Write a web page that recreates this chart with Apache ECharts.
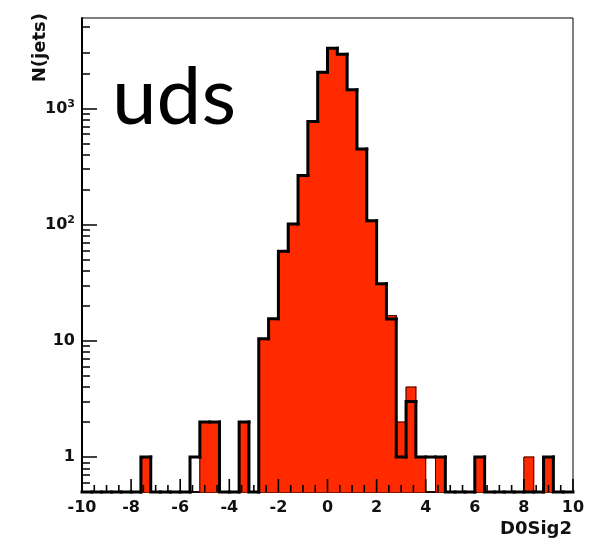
<!DOCTYPE html>
<html>
<head>
<meta charset="utf-8">
<script src="https://cdn.jsdelivr.net/npm/echarts@6/dist/echarts.min.js"></script>
<style>
  html, body { margin: 0; padding: 0; background: #fff; }
  #chart { width: 599px; height: 541px; }
</style>
</head>
<body>
<div id="chart"></div>
<script>
// D0Sig2 distribution for uds jets: 50 bins of width 0.4 on [-10, 10]
const binStart = -10;
const binWidth = 0.4;

// filled histogram (red)
const redCounts = [
  0, 0, 0, 0, 0, 0, 1, 0, 0, 0,
  0, 0, 2, 2, 0, 0, 2, 0, 10.4, 15.5,
  59, 101, 265, 771, 2052, 3300, 2930, 1446, 447, 108,
  31, 16.5, 2, 4, 1, 0, 1, 0, 0, 0,
  1, 0, 0, 0, 0, 1, 0, 1, 0, 0
];

// outline histogram (black)
const blackCounts = [
  0, 0, 0, 0, 0, 0, 1, 0, 0, 0,
  0, 1, 2, 2, 0, 0, 2, 0, 10.4, 15.5,
  59, 101, 265, 771, 2052, 3300, 2930, 1446, 447, 108,
  31, 15.4, 1, 3, 1, 1, 1, 0, 0, 0,
  1, 0, 0, 0, 0, 0, 0, 1, 0, 0
];

const xTickLabels = [-10, -8, -6, -4, -2, 0, 2, 4, 6, 8, 10];
const xMinorTicks = [];
for (let k = 0; k < 40; k++) {
  const v = -10 + k * 0.5;
  if (k % 4 !== 0) xMinorTicks.push(v);
}
const yMajorTicks = [1, 10, 100, 1000];
const yMinorTicks = [0.6, 0.7, 0.8, 0.9,
  2, 3, 4, 5, 6, 7, 8, 9,
  20, 30, 40, 50, 60, 70, 80, 90,
  200, 300, 400, 500, 600, 700, 800, 900,
  2000, 3000, 5000];

const yMin = 0.5;
const yMax = 6000;
const RED = '#ff2a00';
const FONT = 'DejaVu Sans';

const chart = echarts.init(document.getElementById('chart'), null, { renderer: 'canvas' });

const fillData = [];
redCounts.forEach((c, i) => {
  if (c > 0) fillData.push([binStart + i * binWidth, binStart + (i + 1) * binWidth, c]);
});

function outlineData(counts) {
  return counts.map((c, i) => [
    binStart + i * binWidth,
    binStart + (i + 1) * binWidth,
    c,
    i === 0 ? 0 : counts[i - 1],
    i === counts.length - 1 ? 1 : 0
  ]);
}

function stepRenderer(color, width) {
  return function (params, api) {
    const lo = api.value(0), hi = api.value(1);
    const cur = Math.max(api.value(2), yMin);
    const prev = Math.max(api.value(3), yMin);
    const pts = [api.coord([lo, prev]), api.coord([lo, cur]), api.coord([hi, cur])];
    if (api.value(4) === 1) pts.push(api.coord([hi, yMin]));
    return {
      type: 'polyline',
      shape: { points: pts },
      style: { stroke: color, lineWidth: width, fill: null, lineCap: 'square', lineJoin: 'miter' }
    };
  };
}

const tickLabelStyle = { fontFamily: FONT, fontWeight: 'bold', fontSize: 16, color: '#111' };
const tickLine = { color: '#000', width: 1.5 };

const texts = [
  {
    type: 'text', x: 40, y: 13, rotation: Math.PI / 2,
    style: { text: 'N(jets)', fontFamily: FONT, fontWeight: 'bold', fontSize: 18, fill: '#111',
      align: 'right', verticalAlign: 'middle' }
  },
  {
    type: 'text', x: 572, y: 529,
    style: { text: 'D0Sig2', fontFamily: FONT, fontWeight: 'bold', fontSize: 18, fill: '#111',
      align: 'right', verticalAlign: 'middle' }
  },
  {
    type: 'text', x: 112, y: 98,
    style: { text: 'uds', fontFamily: 'Lato', fontSize: 80, fill: '#000',
      align: 'left', verticalAlign: 'middle' }
  }
];

chart.setOption({
  animation: false,
  backgroundColor: '#fff',
  grid: {
    left: 82, right: 26, top: 18, bottom: 49,
    show: true, borderColor: '#000', borderWidth: 1, backgroundColor: 'transparent',
    containLabel: false, outerBoundsMode: 'none'
  },
  xAxis: {
    type: 'value', min: -10, max: 10, interval: 2,
    axisLine: { onZero: false, lineStyle: { color: '#000', width: 2 } },
    axisTick: { show: false },
    minorTick: { show: false },
    splitLine: { show: false },
    axisLabel: Object.assign({ margin: 8, showMinLabel: true, showMaxLabel: true,
      customValues: xTickLabels }, tickLabelStyle)
  },
  yAxis: [
    {
      type: 'log', logBase: 10, min: yMin, max: yMax,
      axisLine: { onZero: false, lineStyle: { color: '#000', width: 2 } },
      axisTick: { inside: true, length: 15, customValues: yMajorTicks, lineStyle: tickLine },
      splitLine: { show: false },
      axisLabel: Object.assign({
        margin: 7,
        customValues: yMajorTicks,
        formatter: function (v) {
          const e = Math.round(Math.log10(v));
          if (e >= 2) return '{b|10}{s|' + e + '}';
          return '{b|' + Math.round(v) + '}';
        },
        rich: {
          b: { fontFamily: FONT, fontWeight: 'bold', fontSize: 16, color: '#111', lineHeight: 20 },
          s: { fontFamily: FONT, fontWeight: 'bold', fontSize: 11, color: '#111', verticalAlign: 'top', lineHeight: 11 }
        }
      }, tickLabelStyle)
    },
    {
      type: 'log', logBase: 10, min: yMin, max: yMax, position: 'left',
      axisLine: { show: false, onZero: false },
      axisLabel: { show: false },
      splitLine: { show: false },
      axisTick: { inside: true, length: 8, customValues: yMinorTicks, lineStyle: tickLine }
    }
  ],
  graphic: texts,
  series: [
    {
      type: 'custom', name: 'filled', xAxisIndex: 0, yAxisIndex: 0, clip: false,
      encode: { x: [0, 1], y: 2 },
      data: fillData,
      renderItem: function (params, api) {
        const a = api.coord([api.value(0), yMin]);
        const b = api.coord([api.value(1), api.value(2)]);
        return {
          type: 'rect',
          shape: { x: a[0], y: b[1], width: b[0] - a[0], height: a[1] - b[1] },
          style: { fill: RED, stroke: RED, lineWidth: 1 }
        };
      }
    },
    {
      type: 'custom', name: 'filled outline', xAxisIndex: 0, yAxisIndex: 0, clip: false,
      encode: { x: [0, 1], y: 2 },
      data: outlineData(redCounts),
      renderItem: stepRenderer('#3a0a00', 1)
    },
    {
      type: 'custom', name: 'outline', xAxisIndex: 0, yAxisIndex: 0, clip: false,
      encode: { x: [0, 1], y: 2 },
      data: outlineData(blackCounts),
      renderItem: stepRenderer('#000', 3)
    }
  ]
});

// x-axis tick marks pointing up into the frame, placed through the axis scale, drawn over the bars
const tickMarks = [];
xTickLabels.forEach(v => tickMarks.push([v, 13]));
xMinorTicks.forEach(v => tickMarks.push([v, 7]));
const tickGraphics = tickMarks.map(([v, len]) => {
  const p = chart.convertToPixel({ xAxisIndex: 0, yAxisIndex: 0 }, [v, yMin]);
  return {
    type: 'line', z: 100,
    shape: { x1: p[0], y1: p[1], x2: p[0], y2: p[1] - len },
    style: { stroke: '#000', lineWidth: 1.6 }
  };
});
chart.setOption({ graphic: texts.concat(tickGraphics) });
</script>
</body>
</html>
